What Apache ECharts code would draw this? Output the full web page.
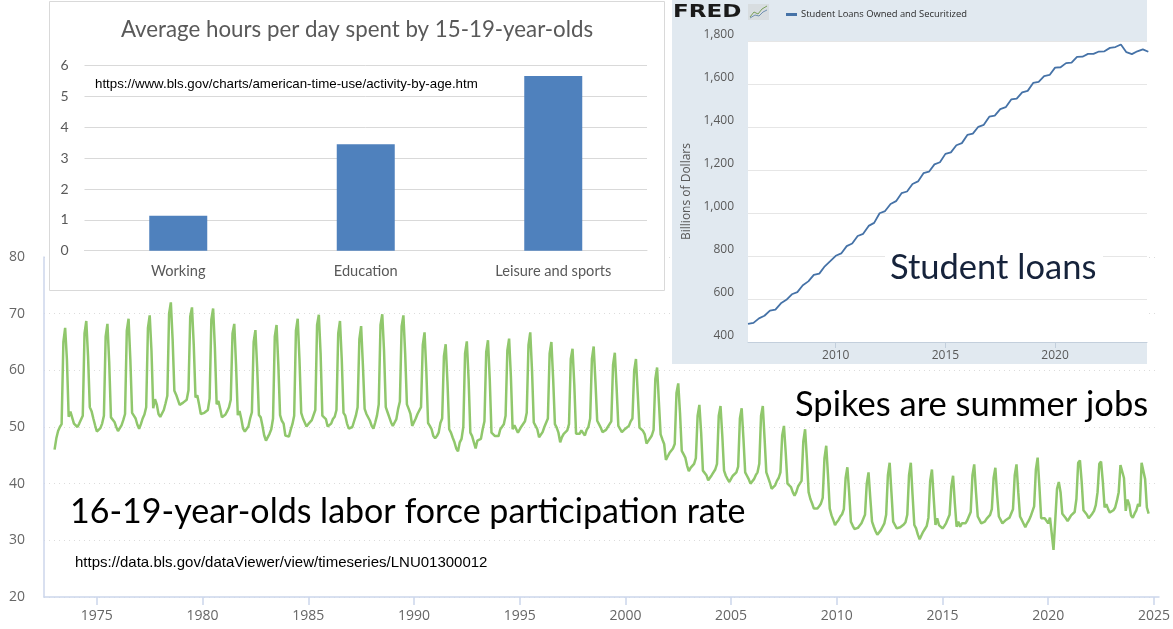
<!DOCTYPE html>
<html><head><meta charset="utf-8">
<script src="https://cdn.jsdelivr.net/npm/echarts/dist/echarts.min.js"></script>
<style>html,body{margin:0;padding:0;background:#fff}#c{width:1173px;height:629px}</style>
</head><body><div id="c"></div>
<script>
// ---- Teen (16-19) labor force participation rate, monthly, NSA ----
const lfprStartYear = 1973;
const lfprMonthly = [
 [46.0,48.0,49.3,50.0,50.5,65.0,67.5,62.0,51.8,52.7,52.4,50.6], // 1973
 [50.3,50.0,50.6,50.9,52.0,66.5,68.7,62.5,53.5,52.8,51.5,50.3], // 1974
 [49.2,49.4,49.8,50.6,52.0,66.0,68.2,61.5,51.7,51.4,50.9,50.0], // 1975
 [49.3,49.5,50.3,51.2,52.3,67.0,69.1,62.0,52.5,52.0,51.5,50.4], // 1976
 [49.7,50.5,51.5,52.2,53.5,67.5,69.7,63.5,53.3,54.9,54.0,52.3], // 1977
 [51.8,52.0,53.0,54.2,55.5,70.0,72.0,65.5,56.4,55.7,55.6,53.9], // 1978
 [54.0,54.3,54.6,54.8,56.5,69.5,71.1,64.5,55.2,55.6,54.0,52.3], // 1979
 [52.0,52.5,52.2,53.0,55.0,69.0,70.9,64.0,54.0,54.6,53.2,51.7], // 1980
 [51.4,52.2,52.8,53.5,54.8,66.5,68.2,61.0,52.1,52.8,51.4,49.7], // 1981
 [49.2,49.5,50.1,51.5,52.6,65.0,67.1,60.5,52.1,51.7,50.2,48.5], // 1982
 [47.6,47.8,48.8,49.6,51.5,66.0,68.0,61.0,52.1,51.1,50.6,48.5], // 1983
 [48.2,48.3,49.5,50.5,52.0,67.0,69.1,62.0,52.5,51.5,51.2,50.1], // 1984
 [50.5,50.4,51.2,51.4,53.0,68.0,69.8,63.0,52.0,51.7,51.4,50.1], // 1985
 [50.1,50.6,51.4,51.8,53.0,66.5,68.7,62.0,52.5,52.0,50.6,49.7], // 1986
 [49.4,50.0,50.3,52.0,53.5,65.5,67.8,61.0,53.2,52.3,52.6,51.1], // 1987
 [50.2,49.7,50.8,52.0,54.0,68.0,69.9,63.5,53.5,52.6,52.3,50.8], // 1988
 [50.2,50.8,51.4,53.2,54.5,67.8,69.7,63.0,54.0,53.2,52.3,50.2], // 1989
 [50.5,51.5,52.3,52.6,53.5,64.5,66.7,60.0,50.7,50.2,49.6,48.4], // 1990
 [48.0,48.4,49.0,50.7,51.5,62.5,64.6,58.0,49.6,49.0,48.1,47.3], // 1991
 [46.2,45.7,47.3,47.9,50.0,63.0,65.1,58.5,49.0,48.4,47.3,46.2], // 1992
 [47.6,47.3,47.9,49.6,51.0,63.2,65.3,58.5,49.0,48.9,48.4,48.1], // 1993
 [48.4,49.6,49.8,50.5,52.0,63.5,65.6,59.0,49.6,50.3,50.1,49.0], // 1994
 [49.3,50.1,50.2,51.0,52.5,64.5,66.7,60.0,50.8,50.2,49.6,48.2], // 1995
 [48.0,49.1,50.0,50.3,51.5,63.0,65.0,58.5,50.5,49.9,49.0,47.3], // 1996
 [48.2,48.8,49.1,49.4,50.5,62.0,63.8,57.5,48.8,49.1,48.8,49.4], // 1997
 [49.1,48.5,49.5,50.0,51.5,62.0,64.2,58.0,51.1,50.5,49.9,49.1], // 1998
 [49.2,49.5,50.0,50.5,51.0,61.0,63.1,57.0,50.2,49.9,49.1,49.4], // 1999
 [49.7,50.0,50.2,51.0,51.5,60.0,62.0,56.0,49.9,49.6,49.3,48.7], // 2000
 [47.1,46.8,48.0,48.5,49.5,58.5,60.5,54.5,48.7,47.8,47.0,44.2], // 2001
 [44.8,45.4,45.7,46.2,47.0,56.0,57.7,52.5,45.8,45.2,44.6,43.2], // 2002
 [42.2,42.8,43.0,43.5,44.5,52.0,53.9,49.0,42.3,42.0,41.5,40.6], // 2003
 [40.9,41.5,41.8,42.5,43.5,52.0,53.7,48.5,42.3,41.4,40.8,40.3], // 2004
 [40.6,41.4,41.7,42.0,43.0,51.5,53.3,48.0,42.0,41.4,40.8,40.0], // 2005
 [39.7,40.8,41.5,42.0,43.5,52.0,53.7,48.0,42.0,41.1,40.2,39.1], // 2006
 [38.8,39.7,40.5,41.0,42.0,48.5,50.2,45.5,40.0,39.7,39.4,38.5], // 2007
 [37.9,38.5,39.5,40.0,40.5,47.5,49.6,44.5,38.5,37.3,36.5,35.6], // 2008
 [35.3,35.6,36.0,36.5,37.5,44.5,46.7,41.5,35.6,34.4,33.6,32.7], // 2009
 [33.2,33.6,34.2,34.6,35.5,41.0,42.9,38.5,33.3,32.6,32.0,32.0], // 2010
 [32.2,32.6,33.0,33.3,34.5,40.0,42.0,37.5,33.3,32.4,31.6,31.0], // 2011
 [31.3,31.8,32.4,33.0,34.5,41.5,43.7,38.5,33.3,32.7,32.1,31.8], // 2012
 [32.3,32.6,32.8,33.2,34.5,41.5,43.7,38.0,32.7,32.1,31.0,30.2], // 2013
 [30.4,31.5,32.0,32.5,34.0,40.5,42.5,37.5,32.7,33.9,32.7,32.4], // 2014
 [32.1,32.5,33.0,33.3,34.5,39.5,41.4,36.5,32.4,33.3,32.4,33.0], // 2015
 [32.7,33.0,33.5,33.8,35.0,41.5,43.4,38.5,34.2,33.6,33.0,32.7], // 2016
 [33.3,33.8,34.0,34.5,35.5,41.0,42.8,38.0,34.2,33.6,33.0,32.9], // 2017
 [33.6,33.5,34.0,34.3,35.5,41.5,43.4,38.5,34.2,33.6,33.3,32.3], // 2018
 [33.0,33.5,34.2,34.0,36.0,42.5,44.6,39.5,33.9,34.2,33.9,33.6], // 2019
 [33.0,34.0,33.8,28.3,33.6,39.1,40.3,38.5,34.7,34.5,33.9,33.4], // 2020
 [33.9,34.4,34.7,35.0,37.3,43.7,44.1,40.3,35.3,35.0,34.5,33.9], // 2021
 [33.6,34.7,35.2,36.2,38.5,43.5,43.9,40.3,35.8,36.4,35.5,34.9], // 2022
 [35.2,35.3,35.8,37.0,38.5,43.3,43.6,41.0,35.2,37.2,36.3,34.4], // 2023
 [34.0,34.7,35.3,36.4,36.0,43.7,43.9,40.8,35.8,34.7]            // 2024
];
const mainYearTicks = [1975,1980,1985,1990,1995,2000,2005,2010,2015,2020,2025];

// ---- Inset: average hours per day, 15-19-year-olds ----
const barCategories = ['Working','Education','Leisure and sports'];
const barValues = [1.13, 3.45, 5.67];

// ---- Inset: FRED student loans owned and securitized (quarterly, $bn) ----
const loanStartYear = 2006;
const loanQuarterly = [
 484,489,510,522, 546,551,580,596, 622,632,664,682, 712,718,752,776,
 801,812,846,858, 893,903,940,954, 999,1009,1042,1055, 1092,1100,1135,1147,
 1185,1192,1226,1236, 1275,1282,1315,1325, 1363,1369,1401,1410, 1448,1453,1483,1492,
 1528,1532,1561,1568, 1605,1610,1637,1642, 1676,1678,1697,1699, 1726,1727,1740,1740,
 1751,1752,1768,1772, 1784,1748,1739,1752, 1761,1750
];
const fredYearTicks = [2010,2015,2020];
const recessions = [[2007.917, 2009.417],[2020.083, 2020.25]];

const lfprData = [];
lfprMonthly.forEach((row, yi) => row.forEach((v, m) => lfprData.push([lfprStartYear + yi + m / 12, v])));
const loanData = loanQuarterly.map((v, i) => [loanStartYear + i / 4, v]);

const chart = echarts.init(document.getElementById('c'), null, {renderer: 'canvas'});
const gridLine = '#ccd6eb';
const plain = v => String(v);
chart.setOption({
  animation: false,
  backgroundColor: '#ffffff',
  legend: {
    zlevel: 2, left: 781, top: 5, icon: 'rect', itemWidth: 11, itemHeight: 3, itemGap: 5,
    data: ['Student Loans Owned and Securitized'],
    textStyle: {fontSize: 9.4, color: '#2b2b2b', fontFamily: 'Open Sans', padding: [0,0,0,-1]}
  },
  grid: [
    {left: 44, right: 14, top: 257, bottom: 32, zlevel: 0},
    {left: 84.5, right: 526, top: 65.7, bottom: 378.3, zlevel: 2},
    {left: 748, right: 26, top: 41, bottom: 287, zlevel: 2, show: true, backgroundColor: '#ffffff', borderWidth: 0}
  ],
  xAxis: [
    {gridIndex: 0, type: 'value', min: 1972.5, max: 2025.24, zlevel: 0,
     axisLine: {show: true, lineStyle: {color: gridLine, width: 1.5}},
     axisTick: {show: true, customValues: mainYearTicks, length: 8, lineStyle: {color: gridLine, width: 1.5}},
     axisLabel: {customValues: mainYearTicks, formatter: plain, margin: 12, color: '#666', fontSize: 14, fontFamily: 'Open Sans'},
     splitLine: {show: false}},
    {gridIndex: 1, type: 'category', data: barCategories, zlevel: 2,
     axisLine: {show: true, lineStyle: {color: '#d9d9d9'}}, axisTick: {show: false},
     axisLabel: {color: '#595959', fontSize: 14.6, margin: 13, fontFamily: 'Lato'}},
    {gridIndex: 2, type: 'value', min: 2006, max: 2024.19, zlevel: 2,
     axisLine: {show: true, lineStyle: {color: '#c3cfdc', width: 1}},
     axisTick: {show: true, customValues: fredYearTicks, length: 6, lineStyle: {color: '#c3cfdc'}},
     axisLabel: {customValues: fredYearTicks, formatter: plain, margin: 8, color: '#595959', fontSize: 12, fontFamily: 'Open Sans'},
     splitLine: {show: false}}
  ],
  yAxis: [
    {gridIndex: 0, type: 'value', min: 20, max: 80, interval: 10, zlevel: 0,
     axisLine: {show: true, lineStyle: {color: gridLine, width: 1.5}}, axisTick: {show: false},
     axisLabel: {margin: 19, color: '#666', fontSize: 14, fontFamily: 'Open Sans'},
     splitLine: {show: true, lineStyle: {color: '#dcdcdc', type: [1, 4], width: 1}}},
    {gridIndex: 1, type: 'value', min: 0, max: 6, interval: 1, zlevel: 2,
     axisLine: {show: false}, axisTick: {show: false},
     axisLabel: {margin: 16, color: '#595959', fontSize: 14, fontFamily: 'Lato'},
     splitLine: {show: true, lineStyle: {color: '#d9d9d9', width: 1}}},
    {gridIndex: 2, type: 'value', min: 400, max: 1800, interval: 200, zlevel: 2,
     name: 'Billions of Dollars', nameLocation: 'middle', nameGap: 55,
     nameTextStyle: {color: '#595959', fontSize: 12, fontFamily: 'Open Sans'},
     axisLine: {show: false}, axisTick: {show: false},
     axisLabel: {margin: 14, color: '#595959', fontSize: 12, fontFamily: 'Open Sans', verticalAlign: 'bottom',
                 formatter: v => v.toLocaleString('en-US')},
     splitLine: {show: true, lineStyle: {color: '#e6e6e6', width: 1}}}
  ],
  series: [
    {name: 'LFPR 16-19', type: 'line', xAxisIndex: 0, yAxisIndex: 0, zlevel: 0, data: lfprData,
     showSymbol: false, lineStyle: {color: '#90c76c', width: 2.5}, itemStyle: {color: '#90c76c'}},
    {name: 'Hours', type: 'bar', xAxisIndex: 1, yAxisIndex: 1, zlevel: 2, data: barValues,
     barWidth: 58, itemStyle: {color: '#4f81bd'}},
    {name: 'Student Loans Owned and Securitized', type: 'line', xAxisIndex: 2, yAxisIndex: 2, zlevel: 2,
     data: loanData, showSymbol: false, lineStyle: {color: '#4572a7', width: 1.8}, itemStyle: {color: '#4572a7'},
     markArea: {silent: true, itemStyle: {color: '#e3e3e3'},
       data: recessions.map(r => [{xAxis: r[0]}, {xAxis: r[1]}])}}
  ],
  graphic: [
    // bar inset frame
    {type: 'rect', zlevel: 1, shape: {x: 49.5, y: 1.5, width: 615, height: 289},
     style: {fill: '#ffffff', stroke: '#d9d9d9', lineWidth: 1}},
    {type: 'text', zlevel: 2, x: 357, y: 30,
     style: {text: 'Average hours per day spent by 15-19-year-olds', fontSize: 22.3, fontFamily: 'Lato',
             fill: '#595959', align: 'center', verticalAlign: 'middle'}},
    {type: 'text', zlevel: 2, x: 95, y: 84,
     style: {text: 'https://www.bls.gov/charts/american-time-use/activity-by-age.htm', fontSize: 13.3,
             fontFamily: 'Liberation Sans', fill: '#000', align: 'left', verticalAlign: 'middle'}},
    // FRED panel
    {type: 'rect', zlevel: 1, shape: {x: 672, y: 0, width: 475, height: 364}, style: {fill: '#e1e9f0'}},
    {type: 'text', zlevel: 2, x: 673, y: 12, scaleX: 1.28,
     style: {text: 'FRED', fontSize: 18, fontWeight: 'bold', fontFamily: 'DejaVu Sans', fill: '#1a1a1a',
             align: 'left', verticalAlign: 'middle'}},
    {type: 'rect', zlevel: 2, shape: {x: 748, y: 4, width: 21, height: 16}, style: {fill: '#d8dde0'}},
    {type: 'polyline', zlevel: 2, shape: {points: [[750,17],[754,12],[758,14],[762,9],[767,6]]},
     style: {stroke: '#7aa05a', lineWidth: 1, fill: null}},
    {type: 'polyline', zlevel: 2, shape: {points: [[750,18],[755,15],[759,16],[763,12],[767,10]]},
     style: {stroke: '#6f8fb0', lineWidth: 1, fill: null}},
    // "Student loans" label with white backing
    {type: 'rect', zlevel: 3, shape: {x: 885, y: 245, width: 218, height: 45}, style: {fill: '#ffffff'}},
    {type: 'text', zlevel: 3, x: 890, y: 268,
     style: {text: 'Student loans', fontSize: 34.5, fontFamily: 'Lato', fill: '#16233b',
             align: 'left', verticalAlign: 'middle'}},
    // main chart annotations
    {type: 'text', zlevel: 0, x: 795, y: 405,
     style: {text: 'Spikes are summer jobs', fontSize: 34.5, fontFamily: 'Lato', fill: '#000',
             align: 'left', verticalAlign: 'middle'}},
    {type: 'text', zlevel: 0, x: 70, y: 512,
     style: {text: '16-19-year-olds labor force participation rate', fontSize: 34, fontFamily: 'Lato', fill: '#000',
             align: 'left', verticalAlign: 'middle'}},
    {type: 'text', zlevel: 0, x: 75, y: 563,
     style: {text: 'https://data.bls.gov/dataViewer/view/timeseries/LNU01300012', fontSize: 15,
             fontFamily: 'Liberation Sans', fill: '#000', align: 'left', verticalAlign: 'middle'}}
  ]
});
</script>
</body></html>
